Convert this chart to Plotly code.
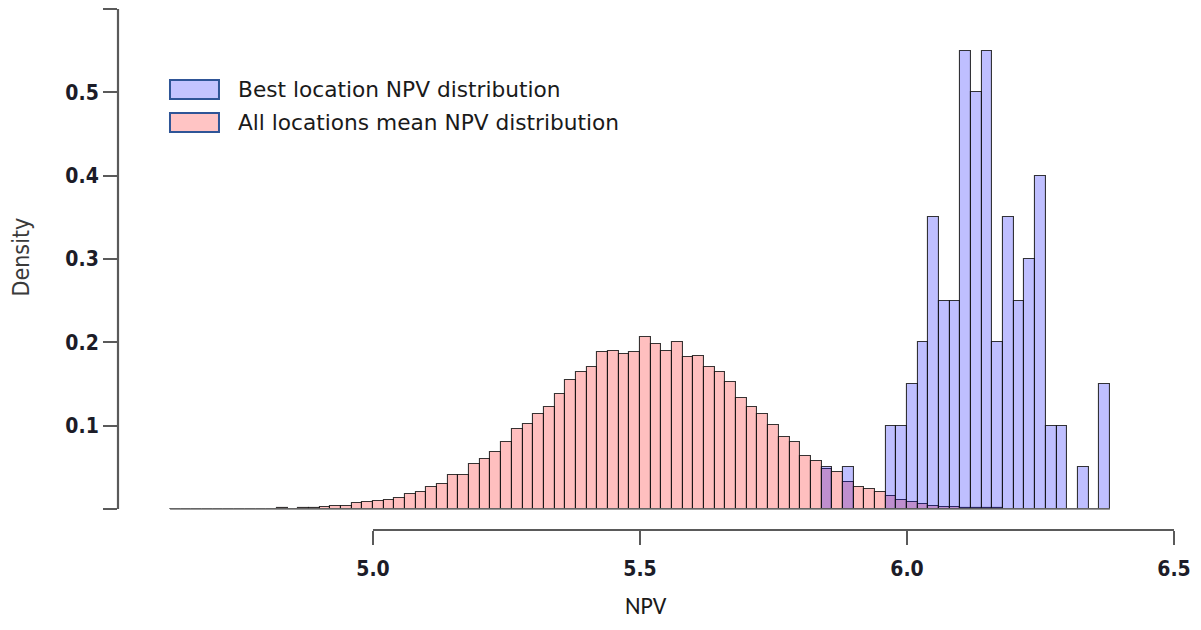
import numpy as np
import plotly.graph_objects as go

# Histogram bins (width 0.02), densities per bin
BIN_W = 0.02

red_start = 4.62
red_density = [
    0, 0, 0, 0, 0, 0, 0, 0, 0, 0,              # 4.62 - 4.80
    0.001, 0, 0.001, 0.001, 0.002,              # 4.82 - 4.90
    0.004, 0.004, 0.007, 0.008, 0.010,          # 4.92 - 5.00
    0.011, 0.013, 0.018, 0.020, 0.026,          # 5.02 - 5.10
    0.030, 0.041, 0.041, 0.054, 0.060,          # 5.12 - 5.20
    0.068, 0.081, 0.096, 0.102, 0.114,          # 5.22 - 5.30
    0.123, 0.138, 0.155, 0.164, 0.171,          # 5.32 - 5.40
    0.188, 0.190, 0.186, 0.188, 0.207,          # 5.42 - 5.50
    0.198, 0.190, 0.200, 0.183, 0.184,          # 5.52 - 5.60
    0.170, 0.164, 0.153, 0.133, 0.122,          # 5.62 - 5.70
    0.114, 0.101, 0.087, 0.080, 0.064,          # 5.72 - 5.80
    0.058, 0.048, 0.045, 0.032, 0.026,          # 5.82 - 5.90
    0.024, 0.021, 0.016, 0.011, 0.009,          # 5.92 - 6.00
    0.006, 0.004, 0.003, 0.002, 0.001,          # 6.02 - 6.10
    0.001, 0.001, 0.001,                        # 6.12 - 6.16
]

blue_start = 5.84
blue_density = [
    0.05, 0, 0.05, 0, 0, 0,                     # 5.84 - 5.94
    0.10, 0.10, 0.15, 0.20, 0.35,               # 5.96 - 6.04
    0.25, 0.25, 0.55, 0.50, 0.55,               # 6.06 - 6.14
    0.20, 0.35, 0.25, 0.30, 0.40,               # 6.16 - 6.24
    0.10, 0.10, 0, 0.05, 0, 0.15,               # 6.26 - 6.36
]

x_ticks = [5.0, 5.5, 6.0, 6.5]
x_tick_text = ["5.0", "5.5", "6.0", "6.5"]
y_ticks = [0, 0.1, 0.2, 0.3, 0.4, 0.5, 0.6]
y_tick_text = ["", "0.1", "0.2", "0.3", "0.4", "0.5", ""]

series_names = ["Best location NPV distribution", "All locations mean NPV distribution"]

RED_FILL = "rgba(255,0,0,0.25)"
BLUE_FILL = "rgba(0,0,255,0.25)"
EDGE = "rgba(20,20,20,0.85)"

red_left = red_start + BIN_W * np.arange(len(red_density))
blue_left = blue_start + BIN_W * np.arange(len(blue_density))

X_RANGE = [4.5225, 6.530]
Y_RANGE = [-0.0252, 0.6]

fig = go.Figure()
fig.add_trace(go.Bar(
    x=red_left + BIN_W / 2, y=red_density, width=BIN_W,
    marker=dict(color=RED_FILL, line=dict(color=EDGE, width=1.1)),
    name=series_names[1], showlegend=False,
))
fig.add_trace(go.Bar(
    x=blue_left + BIN_W / 2, y=blue_density, width=BIN_W,
    marker=dict(color=BLUE_FILL, line=dict(color=EDGE, width=1.1)),
    name=series_names[0], showlegend=False,
))


def px(v):
    return (v - X_RANGE[0]) / (X_RANGE[1] - X_RANGE[0])


def py(v):
    return (v - Y_RANGE[0]) / (Y_RANGE[1] - Y_RANGE[0])


AXIS_COL = "#5a5a5a"
shapes = [
    # y axis line from 0 to top tick
    dict(type="line", xref="paper", yref="paper", x0=0, x1=0,
         y0=py(y_ticks[0]), y1=py(y_ticks[-1]), line=dict(color=AXIS_COL, width=2.2)),
    # x axis line between first and last tick
    dict(type="line", xref="paper", yref="paper", x0=px(x_ticks[0]), x1=px(x_ticks[-1]),
         y0=0, y1=0, line=dict(color=AXIS_COL, width=2.2)),
    # histogram baseline
    dict(type="line", xref="paper", yref="paper",
         x0=px(red_left[0]), x1=px(blue_left[-1] + BIN_W),
         y0=py(0), y1=py(0), line=dict(color="#777777", width=1.6)),
]

# legend boxes
LEG_EDGE = "#2f5597"
leg_x0, leg_x1 = 0.0485, 0.0942
for (y0, y1), fill in [((0.8273, 0.8637), "#c4c4ff"), ((0.7639, 0.8004), "#ffc4c4")]:
    shapes.append(dict(type="rect", xref="paper", yref="paper", x0=leg_x0, x1=leg_x1,
                       y0=y0, y1=y1, fillcolor=fill, line=dict(color=LEG_EDGE, width=2)))

LEG_FONT = dict(family="'DejaVu Sans', 'Open Sans', sans-serif", size=21.7, color="#1a1a1a")
annotations = [
    dict(text=series_names[0], xref="paper", yref="paper", x=0.1100, y=0.8455,
         xanchor="left", yanchor="middle", showarrow=False, font=LEG_FONT),
    dict(text=series_names[1], xref="paper", yref="paper", x=0.1100, y=0.7822,
         xanchor="left", yanchor="middle", showarrow=False, font=LEG_FONT),
    dict(text="NPV", xref="paper", yref="paper", x=0.4925, y=-0.144,
         xanchor="center", yanchor="middle", showarrow=False,
         font=dict(family="Carlito, Calibri, Lato, 'Open Sans', sans-serif", size=24, color="#1a1a1a")),
    dict(text="Density", xref="paper", yref="paper", x=-0.0896, y=0.525,
         xanchor="center", yanchor="middle", showarrow=False, textangle=-90,
         font=dict(family="'DejaVu Sans Condensed', 'Liberation Sans Narrow', sans-serif",
                   size=23, color="#3a3a3a")),
]

TICK_FONT = dict(family="'DejaVu Sans Condensed', 'Liberation Sans Narrow', sans-serif",
                 size=21, color="#1c1c28", weight="bold")

fig.update_layout(
    width=1201, height=630,
    margin=dict(l=118, r=11, t=9, b=100),
    paper_bgcolor="white", plot_bgcolor="white",
    barmode="overlay", bargap=0,
    showlegend=False,
    shapes=shapes, annotations=annotations,
    xaxis=dict(range=X_RANGE, tickvals=x_ticks, ticktext=x_tick_text,
               ticks="outside", ticklen=14, tickwidth=2, tickcolor=AXIS_COL,
               showline=False, showgrid=False, zeroline=False,
               tickfont=TICK_FONT, ticklabelstandoff=6),
    yaxis=dict(range=Y_RANGE, tickvals=y_ticks, ticktext=y_tick_text,
               ticks="outside", ticklen=14, tickwidth=2, tickcolor=AXIS_COL,
               showline=False, showgrid=False, zeroline=False,
               tickfont=TICK_FONT, ticklabelstandoff=0),
)

fig.write_html("out.html")
